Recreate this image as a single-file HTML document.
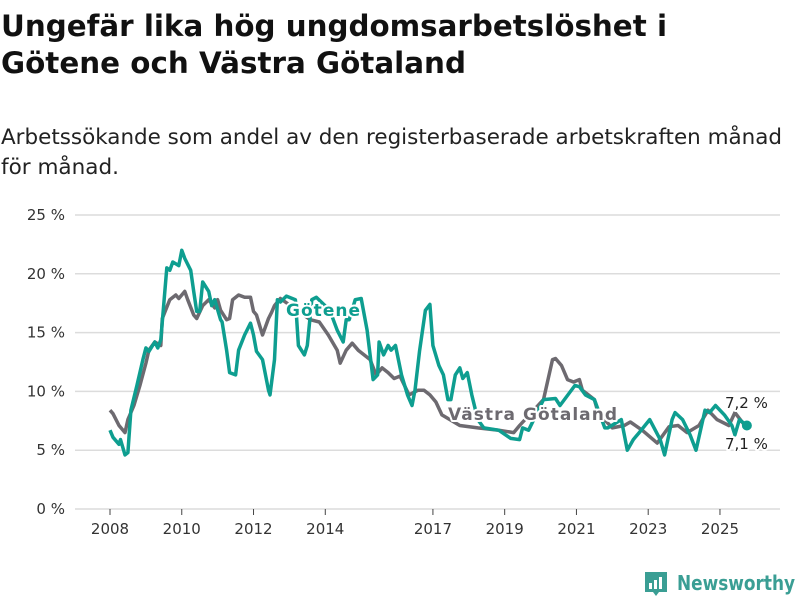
<!DOCTYPE html>
<html><head><meta charset="utf-8"><style>
html,body{margin:0;padding:0;background:#fff;}
svg{display:block;font-family:"DejaVu Sans","Liberation Sans",sans-serif;}
</style></head><body>
<svg id="chart" width="800" height="600" viewBox="0 0 800 600" xmlns="http://www.w3.org/2000/svg">
<text x="1" y="36" font-size="29" font-weight="bold" fill="#111" textLength="666" lengthAdjust="spacingAndGlyphs">Ungefär lika hög ungdomsarbetslöshet i</text>
<text x="1" y="73" font-size="29" font-weight="bold" fill="#111" textLength="465" lengthAdjust="spacingAndGlyphs">Götene och Västra Götaland</text>
<text x="1" y="144" font-size="21" fill="#222" textLength="781" lengthAdjust="spacingAndGlyphs">Arbetssökande som andel av den registerbaserade arbetskraften månad</text>
<text x="1" y="174" font-size="21" fill="#222" textLength="118" lengthAdjust="spacingAndGlyphs">för månad.</text>
<g id="grid"></g>
<g id="xaxis"></g>
<g id="series"></g>
<g id="labels"></g>
<g>
<path d="M645 572 h22 v20 h-8 l-3 4 l-3 -4 h-8 z" fill="#3a9e94"/>
<rect x="649" y="583" width="3" height="6" fill="#fff"/><rect x="654" y="580" width="3" height="9" fill="#fff"/><rect x="659" y="577" width="3" height="12" fill="#fff"/>
<text x="677" y="590" font-size="20" font-weight="bold" fill="#3a9e94" textLength="118" lengthAdjust="spacingAndGlyphs">Newsworthy</text>
</g>
</svg>
<script>
// Y ticks
const yTicks=[0,5,10,15,20,25];
const yTickLabels=["0 %","5 %","10 %","15 %","20 %","25 %"];
// X ticks (months since Jan 2008)
const xTickMonths=[0,24,48,72,108,132,156,180,204];
const xTickLabels=["2008","2010","2012","2014","2017","2019","2021","2023","2025"];
// Västra Götaland
const vgMonths=[0,1,3,5,6,8,10,12,13,15,17,17.5,20,22,23,25,26,28,29,31,33,35,36,37,39,40,41,43,45,47,48,49,51,53,54,55,57,67,70,73,76,77,79,81,83,85,87,89,91,93,95,97,100,103,105,107,109,111,117,123,130,135,137,145,148,149,151,153,155,157,158,160,162,163,165,168,172,174,178,183,187,190,193,197,200,203,207,209,212];
const vgValues=[8.4,8.1,7.1,6.5,7.6,8.8,10.5,12.4,13.5,14.2,13.9,16.2,17.8,18.2,17.9,18.5,17.8,16.5,16.2,17.3,17.8,17.1,17.8,16.9,16.1,16.2,17.8,18.2,18.0,18.0,16.8,16.5,14.8,16.2,16.7,17.3,17.9,16.1,15.9,14.8,13.5,12.4,13.5,14.1,13.5,13.1,12.7,11.4,12.0,11.6,11.1,11.3,9.7,10.1,10.1,9.7,9.1,8.0,7.1,6.9,6.7,6.5,7.1,9.3,12.7,12.8,12.2,11.0,10.8,11.0,10.1,9.7,9.3,8.4,7.7,6.9,7.1,7.4,6.7,5.6,7.0,7.1,6.5,7.1,8.4,7.6,7.1,8.2,7.2];
// Götene
const goMonths=[0,1,3,3.5,5,6,7,9,11,12,13,15,16,17,19,20,21,23,24,25,27,28,29,30,31,33,34,35,37,37.5,39,40,42,43,45,47,48,49,51,53,53.5,55,56,57,59,62,63,65,66,67.5,69,73.5,76,78,79,80,82,84,86,88,89.5,90,91.5,93,94,95.5,97.5,99.5,101,102,103.5,105.5,107,108,110,111.5,113,114,115.5,117,118,119.5,121,123,125,130,134,137,138,140,145,149,150.5,155.5,157,159,162,165.5,166.5,171,173,175,177,180.5,184,185.5,188,189,191.5,194,196,199,200.5,202.5,205.5,208,209,210.5,213];
const goValues=[6.7,6.1,5.5,5.9,4.6,4.8,8.4,10.5,12.7,13.7,13.4,14.2,13.7,14.4,20.5,20.3,21.0,20.7,22.0,21.3,20.3,18.5,16.8,16.8,19.3,18.5,17.3,17.8,16.1,15.9,13.5,11.6,11.4,13.5,14.8,15.8,14.8,13.4,12.7,10.1,9.7,12.7,17.8,17.6,18.1,17.8,13.9,13.1,13.9,17.8,18.0,16.9,15.2,14.2,16.1,16.1,17.8,17.9,15.2,11.0,11.4,14.2,13.1,13.9,13.5,13.9,11.4,9.7,8.8,10.1,13.4,16.9,17.4,13.9,12.2,11.4,9.3,9.3,11.4,12.0,11.1,11.6,9.7,7.6,6.9,6.7,6.0,5.9,6.9,6.7,9.3,9.4,8.8,10.5,10.4,9.7,9.3,6.9,6.9,7.6,5.0,5.9,6.5,7.6,5.9,4.6,7.6,8.2,7.6,6.3,5.0,8.4,8.2,8.8,8.0,7.1,6.3,7.6,7.1];

const NS="http://www.w3.org/2000/svg";
const xs=m=>110+m*2.99;
const ys=v=>509-v*11.76;
function mk(tag,attrs,parent){const e=document.createElementNS(NS,tag);for(const k in attrs)e.setAttribute(k,attrs[k]);parent.appendChild(e);return e;}
const grid=document.getElementById('grid'),xaxis=document.getElementById('xaxis'),series=document.getElementById('series'),labels=document.getElementById('labels');
yTicks.forEach((t,i)=>{
  const l=mk('line',{x1:75,x2:780,y1:ys(t),y2:ys(t),stroke:'#dcdcdc','stroke-width':1.5},grid);
  
  
  const tx=mk('text',{x:65,y:ys(t)+5,'font-size':15,fill:'#333','text-anchor':'end'},grid);
  tx.textContent=yTickLabels[i];
  
  
});
xTickMonths.forEach((m,i)=>{
  const l=mk('line',{x1:xs(m),x2:xs(m),y1:509,y2:515,stroke:'#444','stroke-width':1},xaxis);
  
  
  const tx=mk('text',{x:xs(m),y:534,'font-size':15,fill:'#333','text-anchor':'middle'},xaxis);
  tx.textContent=xTickLabels[i];
  
  
});
function path(ms,vs){return ms.map((m,i)=>(i?'L':'M')+xs(m).toFixed(1)+' '+ys(vs[i]).toFixed(1)).join(' ');}
const pg=mk('path',{d:path(vgMonths,vgValues),fill:'none',stroke:'#6d6a70','stroke-width':3.5,'stroke-linejoin':'round'},series);


const pt=mk('path',{d:path(goMonths,goValues),fill:'none',stroke:'#0e9e90','stroke-width':3.5,'stroke-linejoin':'round'},series);


const lm=goMonths[goMonths.length-1],lv=goValues[goValues.length-1];
const dot=mk('circle',{cx:xs(lm),cy:ys(lv),r:5,fill:'#0e9e90'},series);


function lab(txt,x,y,size,fill,bold,name){
  const t=mk('text',{x:x,y:y,'font-size':size,fill:fill,'font-weight':bold?'bold':'normal',stroke:'#fff','stroke-width':4,'paint-order':'stroke','stroke-linejoin':'round'},labels);
  t.textContent=txt;
  
  
  return t;
}
lab('Götene',286,316,17,'#0e9e90',true,'gotene-label').setAttribute('textLength','74');
lab('Västra Götaland',448,420,17,'#6d6a70',true,'vastra-gotaland-label').setAttribute('textLength','169');
lab('7,2 %',725,408,15,'#222',false,'vg-end-value');
lab('7,1 %',725,449,15,'#222',false,'gotene-end-value');
</script>
</body></html>
